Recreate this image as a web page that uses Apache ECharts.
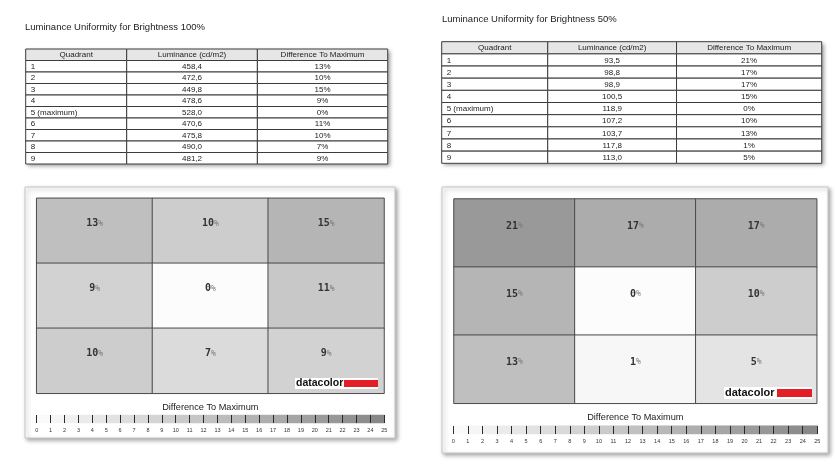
<!DOCTYPE html>
<html>
<head>
<meta charset="utf-8">
<script src="https://cdn.jsdelivr.net/npm/echarts@6/dist/echarts.min.js"></script>
<style>html,body{margin:0;padding:0;background:#fff;}#c{width:835px;height:470px;}</style>
</head>
<body>
<div id="c"></div>
<script>
// ---- data ----
const headers = ['Quadrant', 'Luminance (cd/m2)', 'Difference To Maximum'];
const quadrants = ['1', '2', '3', '4', '5 (maximum)', '6', '7', '8', '9'];
const lum100 = [458.4, 472.6, 449.8, 478.6, 528.0, 470.6, 475.8, 490.0, 481.2];
const diff100 = [13, 10, 15, 9, 0, 11, 10, 7, 9];
const lum50 = [93.5, 98.8, 98.9, 100.5, 118.9, 107.2, 103.7, 117.8, 113.0];
const diff50 = [21, 17, 17, 15, 0, 10, 13, 1, 5];
const scaleTicks = [0,1,2,3,4,5,6,7,8,9,10,11,12,13,14,15,16,17,18,19,20,21,22,23,24,25];
const title100 = 'Luminance Uniformity for Brightness 100%';
const title50 = 'Luminance Uniformity for Brightness 50%';
const scaleName = 'Difference To Maximum';

// ---- helpers ----
const FONT = 'Liberation Sans, Arial, sans-serif';
const MONO = 'DejaVu Sans Mono, monospace';
function fmtLum(v) { return v.toFixed(1).replace('.', ','); }
function tableCells(lum, diff) {
  const cells = [];
  headers.forEach((h, c) => cells.push({ value: [c, 0], text: h }));
  quadrants.forEach((q, i) => {
    cells.push({ value: [0, i + 1], text: q });
    cells.push({ value: [1, i + 1], text: fmtLum(lum[i]) });
    cells.push({ value: [2, i + 1], text: diff[i] + '%' });
  });
  return cells;
}
function tableSeries(idx, lum, diff, frac) {
  const cells = tableCells(lum, diff);
  return {
    type: 'custom', xAxisIndex: idx, yAxisIndex: idx, silent: true,
    data: cells.map(c => c.value),
    renderItem: function (params, api) {
      const cs = params.coordSys;
      const col = api.value(0), row = api.value(1);
      const yc = api.coord([0, row])[1];
      const h = api.size([0, 1])[1];
      const x0 = cs.x + cs.width * frac[col], x1 = cs.x + cs.width * frac[col + 1];
      const txt = cells[params.dataIndex].text;
      const leftAlign = col === 0 && row > 0;
      return {
        type: 'group', children: [
          { type: 'rect', shape: { x: x0, y: yc - h / 2, width: x1 - x0, height: h },
            style: { fill: row === 0 ? '#e6e6e6' : '#ffffff', stroke: '#3c3c3c', lineWidth: 1 } },
          { type: 'text', style: { text: txt, x: leftAlign ? x0 + 5 : (x0 + x1) / 2, y: yc + 0.5,
            align: leftAlign ? 'left' : 'center', verticalAlign: 'middle',
            fontSize: 8, fontFamily: FONT, fill: '#222' } }
        ]
      };
    }
  };
}
function heatData(diff) {
  return diff.map((d, i) => [i % 3, Math.floor(i / 3), d]);
}
const rowCats = ['', '', '', '', '', '', '', '', '', ''];

const boxStyle = { show: true, backgroundColor: '#ffffff', borderColor: '#c8c8c8', borderWidth: 1,
  shadowBlur: 4, shadowColor: 'rgba(0,0,0,0.35)', shadowOffsetX: 2, shadowOffsetY: 2 };
const tableBox = { show: true, backgroundColor: '#ffffff', borderWidth: 0,
  shadowBlur: 4, shadowColor: 'rgba(0,0,0,0.4)', shadowOffsetX: 2, shadowOffsetY: 2 };

const heatLabel = {
  show: true, offset: [0, -7],
  formatter: p => '{n|' + p.value[2] + '}{p|%}',
  rich: {
    n: { fontFamily: MONO, fontWeight: 'bold', fontSize: 10, color: '#333' },
    p: { fontFamily: MONO, fontSize: 8, color: '#777' }
  }
};
function heatSeries(idx, diff) {
  return { type: 'heatmap', xAxisIndex: idx, yAxisIndex: idx, data: heatData(diff),
    label: heatLabel, itemStyle: { borderColor: '#4a4a4a', borderWidth: 1 },
    emphasis: { disabled: true }, silent: true };
}
function scaleSeries(idx) {
  return { type: 'heatmap', xAxisIndex: idx, yAxisIndex: idx,
    data: scaleTicks.slice(0, -1).map((t, i) => [i, 0, t + 0.5]),
    emphasis: { disabled: true }, silent: true };
}
function scaleAxis(gridIndex) {
  return { type: 'value', gridIndex: gridIndex, min: scaleTicks[0], max: scaleTicks[scaleTicks.length - 1],
    interval: 1, position: 'bottom', z: 10,
    axisLine: { show: false }, splitLine: { show: false },
    axisTick: { show: true, inside: true, length: 8, lineStyle: { color: '#2a2a2a', width: 1 } },
    axisLabel: { show: true, fontSize: 5.5, color: '#333', margin: 4, fontFamily: FONT,
      showMinLabel: true, showMaxLabel: true, hideOverlap: false } };
}
function mapAxis(gridIndex) {
  return { type: 'category', gridIndex: gridIndex, data: ['', '', ''],
    axisLine: { show: false }, axisTick: { show: false }, axisLabel: { show: false },
    name: scaleName, nameLocation: 'middle', nameGap: 10,
    nameTextStyle: { fontFamily: FONT, fontSize: 9.2, color: '#222', verticalAlign: 'top' } };
}
function logo(x, y, fs, textW, barW, h) {
  return { type: 'group', x: x, y: y, z: 100, children: [
    { type: 'rect', z: 100, shape: { x: 0, y: 0, width: textW + barW + 2, height: h }, style: { fill: '#ffffff' } },
    { type: 'text', z: 101, style: { text: 'datacolor', x: 1, y: h / 2, verticalAlign: 'middle', fontFamily: FONT, fontWeight: 'bold', fontSize: fs, fill: '#111' } },
    { type: 'rect', z: 101, shape: { x: textW + 2, y: 2, width: barW, height: h - 4 }, style: { fill: '#e31e26' } }
  ] };
}

const titleStyle = { fontFamily: FONT, fontSize: 9.5, fontWeight: 'normal', color: '#222' };
const option = {
  animation: false,
  backgroundColor: '#ffffff',
  title: [
    { text: title100, left: 20, top: 17.5, textStyle: titleStyle },
    { text: title50, left: 437, top: 9.5, textStyle: titleStyle }
  ],
  grid: [
    Object.assign({ left: 25.7, top: 49, width: 362, height: 115 }, tableBox),
    Object.assign({ left: 441.7, top: 41.7, width: 380, height: 121.6 }, tableBox),
    Object.assign({ left: 25, top: 187, width: 370, height: 251 }, boxStyle),
    Object.assign({ left: 442, top: 187, width: 386, height: 266 }, boxStyle),
    { left: 36.7, top: 198.3, width: 347.3, height: 195 },
    { left: 454, top: 199, width: 362.7, height: 204.3 },
    { left: 36.7, top: 415, width: 347.6, height: 8 },
    { left: 453.3, top: 425.7, width: 364, height: 8.3 }
  ],
  xAxis: [
    { type: 'value', gridIndex: 0, min: 0, max: 1, show: false },
    { type: 'value', gridIndex: 1, min: 0, max: 1, show: false },
    { type: 'value', gridIndex: 2, min: 0, max: 1, show: false },
    { type: 'value', gridIndex: 3, min: 0, max: 1, show: false },
    mapAxis(4),
    mapAxis(5),
    { type: 'category', gridIndex: 6, data: scaleTicks.slice(0, -1).map(String), show: false },
    { type: 'category', gridIndex: 7, data: scaleTicks.slice(0, -1).map(String), show: false },
    scaleAxis(6),
    scaleAxis(7)
  ],
  yAxis: [
    { type: 'category', gridIndex: 0, data: rowCats, inverse: true, show: false },
    { type: 'category', gridIndex: 1, data: rowCats, inverse: true, show: false },
    { type: 'value', gridIndex: 2, min: 0, max: 1, show: false },
    { type: 'value', gridIndex: 3, min: 0, max: 1, show: false },
    { type: 'category', gridIndex: 4, data: ['', '', ''], inverse: true, show: false },
    { type: 'category', gridIndex: 5, data: ['', '', ''], inverse: true, show: false },
    { type: 'category', gridIndex: 6, data: [''], show: false },
    { type: 'category', gridIndex: 7, data: [''], show: false }
  ],
  visualMap: {
    show: false, type: 'continuous', min: 0, max: 25, dimension: 2,
    seriesIndex: [2, 3, 4, 5],
    inRange: { color: ['#fcfcfc', '#868686'] }
  },
  series: [
    tableSeries(0, lum100, diff100, [0, 0.279, 0.640, 1]),
    tableSeries(1, lum50, diff50, [0, 0.279, 0.618, 1]),
    heatSeries(4, diff100),
    heatSeries(5, diff50),
    scaleSeries(6),
    scaleSeries(7)
  ],
  graphic: [
    logo(295, 378, 10.5, 47, 34, 11),
    logo(724, 387, 11, 51, 35, 12)
  ]
};

const chart = echarts.init(document.getElementById('c'), null, { renderer: 'canvas' });
chart.setOption(option);
</script>
</body>
</html>
